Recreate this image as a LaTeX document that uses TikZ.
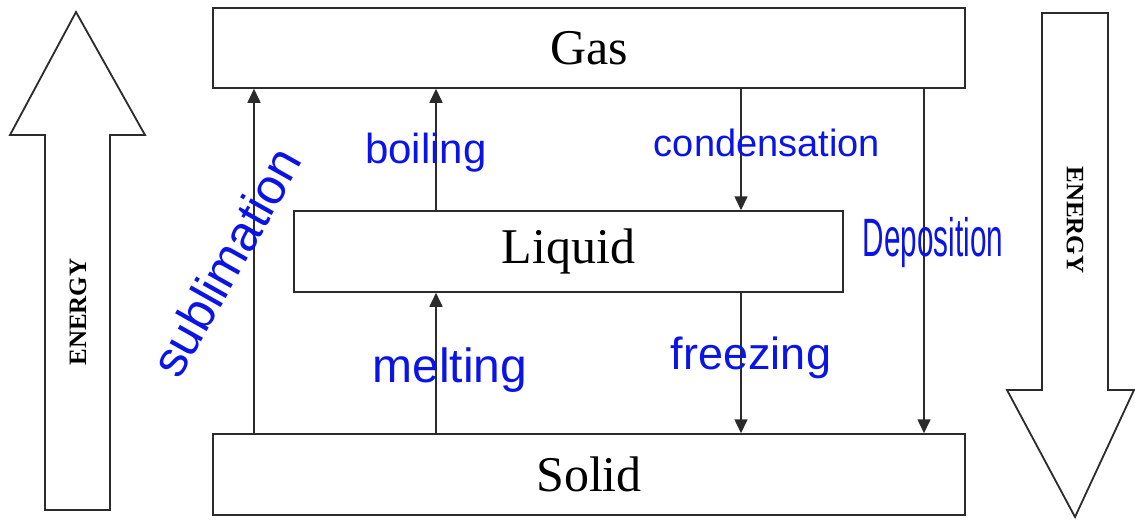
\documentclass[tikz,border=0pt]{standalone}
\usepackage{fontspec}
\setmainfont{Liberation Serif}
\newfontfamily\handfont{Liberation Sans}
\usetikzlibrary{arrows.meta, positioning, calc}
\definecolor{cink}{HTML}{0A14E6}
\definecolor{cline}{HTML}{2B2B2B}
\tikzset{
  every picture/.style={line width=1.5pt},
  phase/.style={draw=cline, fill=white, minimum width=752pt, minimum height=80pt, inner sep=0pt, font=\fontsize{50}{56}\selectfont},
  flow/.style={-{Triangle[length=14pt, width=13pt]}, draw=cline, line width=1.6pt},
  bigarrow/.style={draw=cline, fill=white, line width=1.8pt},
  energy/.style={font=\bfseries\fontsize{25}{28}\selectfont},
  hand/.style={text=cink, font=\handfont\fontsize{#1}{#1}\selectfont, inner sep=0pt},
  hand/.default=40,
}
\begin{document}
\begin{tikzpicture}[x=1pt, y=-1pt]
  \useasboundingbox (0,0) rectangle (1135,520);
  % phases
  \node[phase] (Gas) at (589,48) {Gas};
  \node[phase, minimum width=549pt, minimum height=81pt] (Liquid) at (568.5,251.5) {Liquid};
  \node[phase, minimum height=81pt] (Solid) at (589,474.5) {Solid};
  % columns of the transitions
  \coordinate (xsub) at (254,0);
  \coordinate (xup) at (436,0);
  \coordinate (xdown) at (741,0);
  \coordinate (xdep) at (924,0);
  \draw[flow] (xsub |- Solid.north) -- (xsub |- Gas.south);
  \draw[flow] (xup |- Liquid.north) -- (xup |- Gas.south);
  \draw[flow] (xup |- Solid.north) -- (xup |- Liquid.south);
  \draw[flow] (xdown |- Gas.south) -- (xdown |- Liquid.north);
  \draw[flow] (xdown |- Liquid.south) -- (xdown |- Solid.north);
  \draw[flow] (xdep |- Gas.south) -- (xdep |- Solid.north);
  % energy arrows
  \draw[bigarrow] (45,510) -- (45,135) -- (10,135) -- (76,12) -- (145,135) -- (110,135) -- (110,510) -- cycle;
  \node[energy, rotate=90] (up) at (78,312) {ENERGY};
  \draw[bigarrow] (1042,13) -- (1042,390) -- (1007,390) -- (1075,517) -- (1134,390) -- (1108,390) -- (1108,13) -- cycle;
  \node[energy, rotate=-90] (down) at (1075,220) {ENERGY};
  % handwritten labels
  \node[hand=50, rotate=60.6] (sublimation) at (226,262) {sublimation};
  \node[hand=42] (boiling) at (426,153) {boiling};
  \node[hand=38] (condensation) at (767,143) {condensation};
  \node[hand=54, xscale=0.55] (deposition) at (933,243) {Deposition};
  \node[hand=48] (melting) at (450,370) {melting};
  \node[hand=45] (freezing) at (751,358) {freezing};
\end{tikzpicture}
\end{document}
